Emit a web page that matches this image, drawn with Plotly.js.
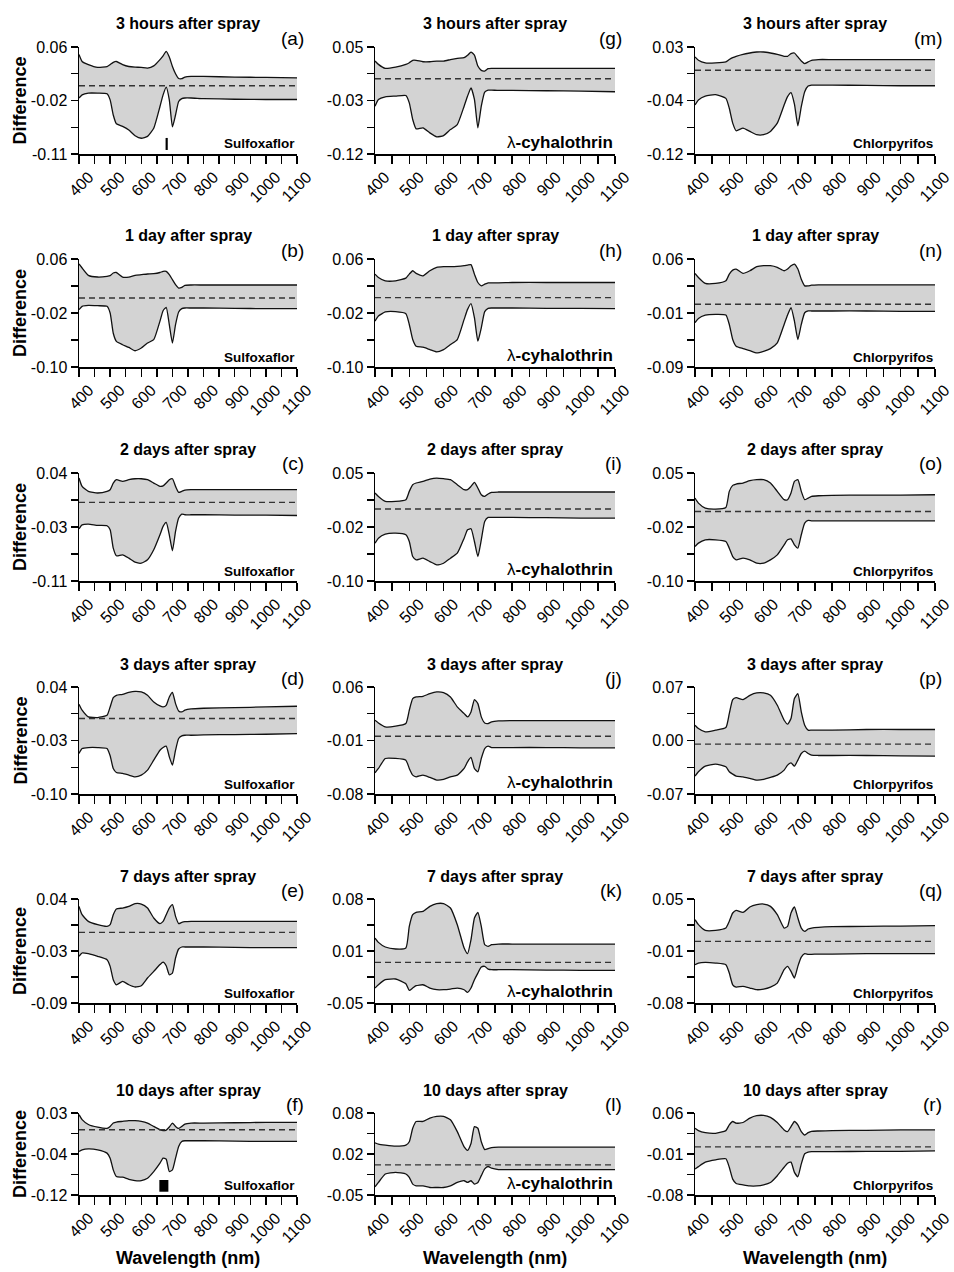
<!DOCTYPE html>
<html><head><meta charset="utf-8">
<script src="https://cdn.plot.ly/plotly-3.0.1.min.js"></script>
<style>html,body{margin:0;padding:0;background:#fff;overflow:hidden}#chart{width:954px;height:1272px}</style>
</head><body><div id="chart"></div>
<script>
// ---------- DATA ----------
const wavelength = [400,410,430,460,490,500,510,520,540,560,580,600,620,640,660,670,680,690,700,710,720,730,740,760,800,900,1000,1100];

// Sulfoxaflor
const aUpper = [0.048,0.037,0.032,0.0276,0.029,0.032,0.0356,0.037,0.032,0.029,0.028,0.0276,0.0265,0.030,0.040,0.046,0.053,0.044,0.029,0.0175,0.010,0.0096,0.0122,0.0133,0.0133,0.0122,0.0117,0.011];
const aLower = [-0.021,-0.016,-0.0133,-0.0133,-0.0144,-0.024,-0.048,-0.062,-0.066,-0.072,-0.081,-0.085,-0.082,-0.069,-0.0345,-0.016,-0.0037,-0.024,-0.067,-0.048,-0.0266,-0.022,-0.021,-0.021,-0.022,-0.023,-0.0234,-0.0234];
const bUpper = [0.0526,0.0467,0.0358,0.0333,0.0343,0.0353,0.0393,0.040,0.0333,0.0333,0.0358,0.0368,0.0378,0.0383,0.040,0.0417,0.0417,0.0368,0.0294,0.022,0.017,0.018,0.021,0.0215,0.0215,0.0215,0.0215,0.0215];
const bLower = [-0.0151,-0.0101,-0.0087,-0.0092,-0.0101,-0.02,-0.05,-0.062,-0.067,-0.071,-0.0759,-0.0719,-0.0645,-0.0595,-0.032,-0.0166,-0.0116,-0.0373,-0.0645,-0.0373,-0.0185,-0.0136,-0.0126,-0.0126,-0.0126,-0.0131,-0.0136,-0.0136];
const cUpper = [0.033,0.0214,0.0145,0.0122,0.0145,0.0168,0.026,0.0307,0.0284,0.0307,0.032,0.032,0.0307,0.026,0.0214,0.022,0.026,0.0307,0.032,0.0214,0.0131,0.0145,0.0163,0.0168,0.0168,0.0168,0.0168,0.017];
const cLower = [-0.0375,-0.032,-0.031,-0.0328,-0.0333,-0.0389,-0.0644,-0.075,-0.0737,-0.0783,-0.0839,-0.0853,-0.0806,-0.0667,-0.0458,-0.0342,-0.0287,-0.0458,-0.068,-0.0412,-0.0226,-0.0171,-0.018,-0.018,-0.018,-0.0185,-0.0185,-0.019];
const dUpper = [0.0174,0.0096,0.0009,0.0,0.003,0.0139,0.026,0.0291,0.0304,0.033,0.0343,0.0335,0.0291,0.0204,0.0152,0.0139,0.016,0.027,0.033,0.0183,0.0087,0.0074,0.0096,0.0113,0.0122,0.013,0.0139,0.0148];
const dLower = [-0.047,-0.0405,-0.0392,-0.0392,-0.0405,-0.05,-0.0666,-0.0718,-0.0731,-0.0753,-0.0775,-0.0753,-0.0688,-0.0557,-0.0427,-0.0392,-0.0374,-0.0514,-0.0622,-0.0427,-0.0274,-0.024,-0.0231,-0.0231,-0.0227,-0.0222,-0.0218,-0.0209];
const eUpper = [0.0308,0.0204,0.012,0.0079,0.0058,0.0079,0.0204,0.0275,0.0287,0.0308,0.0342,0.0337,0.0287,0.0163,0.0092,0.012,0.0204,0.0287,0.0329,0.0183,0.0092,0.0108,0.0117,0.0121,0.0121,0.0121,0.0121,0.0121];
const eLower = [-0.0317,-0.0275,-0.0284,-0.0317,-0.0359,-0.0442,-0.0609,-0.0672,-0.063,-0.0672,-0.07,-0.0684,-0.0588,-0.0505,-0.042,-0.039,-0.0434,-0.0547,-0.0526,-0.0338,-0.0225,-0.02,-0.02,-0.02,-0.02,-0.0205,-0.0209,-0.0209];
const fUpper = [0.027,0.018,0.009,0.004,0.002,0.0055,0.0116,0.0135,0.0147,0.0159,0.0159,0.0147,0.0116,0.0055,-0.0006,-0.0024,-0.0012,0.0043,0.0116,0.0055,0.0018,0.0055,0.0098,0.0116,0.0116,0.0122,0.0129,0.0129];
const fLower = [-0.0404,-0.0373,-0.0355,-0.0373,-0.0434,-0.0526,-0.074,-0.0863,-0.0875,-0.0912,-0.0936,-0.0936,-0.0893,-0.0771,-0.0618,-0.0526,-0.0545,-0.077,-0.074,-0.0526,-0.0312,-0.022,-0.0208,-0.0208,-0.0208,-0.0214,-0.022,-0.022];
// λ-cyhalothrin
const gUpper = [0.0277,0.0224,0.016,0.018,0.0224,0.025,0.0288,0.0288,0.0266,0.0266,0.0277,0.0277,0.030,0.032,0.033,0.0367,0.042,0.037,0.0197,0.0128,0.0118,0.0155,0.016,0.016,0.016,0.016,0.016,0.016];
const gLower = [-0.044,-0.0334,-0.0291,-0.028,-0.027,-0.0387,-0.0652,-0.080,-0.0785,-0.0865,-0.0928,-0.0907,-0.0812,-0.0732,-0.044,-0.028,-0.0148,-0.0334,-0.0785,-0.044,-0.0217,-0.0185,-0.0185,-0.019,-0.019,-0.0195,-0.0201,-0.0211];
const hUpper = [0.0376,0.0327,0.0277,0.0277,0.0317,0.0376,0.0426,0.0386,0.0351,0.0426,0.0476,0.0486,0.0486,0.049,0.0501,0.051,0.0516,0.0376,0.0252,0.0202,0.0227,0.0247,0.0247,0.0247,0.0252,0.0252,0.0252,0.0252];
const hLower = [-0.032,-0.0245,-0.0185,-0.018,-0.021,-0.037,-0.0593,-0.0692,-0.0707,-0.0742,-0.0777,-0.0742,-0.0667,-0.0593,-0.0295,-0.0146,-0.0061,-0.027,-0.0618,-0.0419,-0.018,-0.0131,-0.0126,-0.0126,-0.0126,-0.0131,-0.0131,-0.0136];
const iUpper = [0.0222,0.0175,0.0106,0.0106,0.0129,0.0245,0.0338,0.0361,0.0384,0.0416,0.043,0.0421,0.0407,0.0338,0.0268,0.0268,0.0314,0.037,0.0291,0.0198,0.0175,0.0208,0.0231,0.0236,0.0236,0.0236,0.0236,0.0236];
const iLower = [-0.0474,-0.0405,-0.0349,-0.0335,-0.0358,-0.0451,-0.066,-0.0706,-0.0683,-0.073,-0.0776,-0.0753,-0.0683,-0.0614,-0.0405,-0.0289,-0.0275,-0.0451,-0.066,-0.0428,-0.0173,-0.0117,-0.0117,-0.0117,-0.0117,-0.0121,-0.0126,-0.0126];
const jUpper = [0.0165,0.013,0.0078,0.0087,0.0122,0.0296,0.0448,0.047,0.0478,0.0513,0.0535,0.0526,0.047,0.0339,0.0252,0.0209,0.0274,0.0435,0.0383,0.0209,0.013,0.0122,0.0143,0.0156,0.0161,0.0161,0.0161,0.0161];
const jLower = [-0.0522,-0.0466,-0.0335,-0.0335,-0.0357,-0.0466,-0.0553,-0.0575,-0.0553,-0.0583,-0.0618,-0.0609,-0.0575,-0.0553,-0.0466,-0.0379,-0.0322,-0.0466,-0.0509,-0.0335,-0.0205,-0.0174,-0.0192,-0.0192,-0.0192,-0.0192,-0.0196,-0.0196];
const kUpper = [0.0312,0.0258,0.02,0.0175,0.0187,0.0458,0.0604,0.0633,0.0646,0.0708,0.0742,0.0742,0.0687,0.0479,0.0187,0.0116,0.0291,0.0562,0.0633,0.0458,0.0229,0.0208,0.0229,0.0237,0.0237,0.0237,0.0237,0.0237];
const kLower = [-0.0313,-0.0272,-0.0209,-0.02,-0.0259,-0.0343,-0.0313,-0.0284,-0.0272,-0.0313,-0.0334,-0.0334,-0.0326,-0.0313,-0.0334,-0.0368,-0.0313,-0.0209,-0.0126,-0.0051,-0.0042,-0.0076,-0.0084,-0.0084,-0.0084,-0.0088,-0.0092,-0.0092];
const lUpper = [0.0327,0.0306,0.029,0.0274,0.029,0.0344,0.0558,0.0666,0.0666,0.0719,0.0746,0.0746,0.0693,0.0505,0.0263,0.0209,0.0317,0.0585,0.0558,0.0344,0.022,0.0236,0.0252,0.0258,0.0258,0.0258,0.0258,0.0258];
const lLower = [-0.0371,-0.0301,-0.0167,-0.014,-0.0167,-0.022,-0.0328,-0.0355,-0.0355,-0.0381,-0.0381,-0.0381,-0.0355,-0.0301,-0.0274,-0.0301,-0.0274,-0.0328,-0.0301,-0.0193,-0.0086,-0.0048,-0.0075,-0.0097,-0.0097,-0.0097,-0.0097,-0.0097];
// Chlorpyrifos
const mUpper = [0.0161,0.0114,0.0077,0.0077,0.0091,0.0124,0.0151,0.017,0.0198,0.0216,0.023,0.023,0.0216,0.0198,0.017,0.017,0.0207,0.0216,0.0161,0.0105,0.0068,0.0091,0.0114,0.0124,0.0124,0.0124,0.0124,0.0124];
const mLower = [-0.0512,-0.0442,-0.0387,-0.0368,-0.042,-0.0559,-0.0767,-0.0874,-0.0837,-0.0883,-0.093,-0.093,-0.0883,-0.0767,-0.0512,-0.0396,-0.034,-0.050,-0.0804,-0.0535,-0.0326,-0.0248,-0.0234,-0.0234,-0.0234,-0.0238,-0.0243,-0.0243];
const nUpper = [0.04,0.0344,0.026,0.026,0.0297,0.039,0.0446,0.046,0.04,0.0437,0.0493,0.0507,0.0507,0.0484,0.0437,0.046,0.0507,0.053,0.046,0.032,0.0227,0.0227,0.0236,0.0241,0.0241,0.0241,0.0241,0.0241];
const nLower = [-0.0285,-0.0225,-0.0178,-0.0169,-0.0178,-0.0309,-0.0518,-0.0612,-0.0644,-0.0672,-0.0705,-0.0682,-0.0644,-0.0565,-0.0309,-0.0178,-0.0076,-0.0262,-0.0518,-0.0309,-0.0146,-0.0122,-0.0122,-0.0122,-0.0122,-0.0122,-0.0127,-0.0127];
const oUpper = [0.0152,0.0082,0.0013,-0.0001,0.0022,0.0245,0.0328,0.0347,0.0361,0.0393,0.0407,0.0407,0.0361,0.0245,0.0129,0.0129,0.0222,0.0384,0.0407,0.0245,0.0129,0.0152,0.0175,0.0184,0.0189,0.0194,0.0194,0.0198];
const oLower = [-0.0521,-0.0474,-0.0428,-0.0428,-0.0451,-0.0544,-0.066,-0.0706,-0.0683,-0.0706,-0.0753,-0.0753,-0.0706,-0.0637,-0.0498,-0.0428,-0.0414,-0.0498,-0.0544,-0.0358,-0.0196,-0.0159,-0.0164,-0.0164,-0.0164,-0.0164,-0.0164,-0.0164];
const pUpper = [0.02,0.0156,0.0113,0.0135,0.0169,0.0352,0.0535,0.0561,0.0535,0.0591,0.0622,0.0622,0.0591,0.0461,0.0265,0.0213,0.0287,0.0548,0.0613,0.0374,0.02,0.0135,0.0135,0.0135,0.0135,0.0144,0.0144,0.0144];
const pLower = [-0.0466,-0.0409,-0.0335,-0.0309,-0.0344,-0.0409,-0.044,-0.0466,-0.0475,-0.0496,-0.0518,-0.0509,-0.0483,-0.0453,-0.0388,-0.0322,-0.0292,-0.0335,-0.0257,-0.017,-0.014,-0.017,-0.0192,-0.0196,-0.0196,-0.0196,-0.02,-0.0205];
const qUpper = [0.0241,0.0179,0.0108,0.0108,0.0137,0.0221,0.0325,0.0358,0.0333,0.04,0.0429,0.0437,0.0408,0.0304,0.0137,0.0158,0.0325,0.04,0.0262,0.0137,0.0095,0.0125,0.0137,0.0146,0.0154,0.0158,0.0162,0.0167];
const qLower = [-0.0321,-0.0301,-0.0292,-0.0301,-0.0321,-0.0426,-0.0572,-0.0601,-0.0592,-0.0613,-0.0634,-0.0626,-0.0601,-0.0551,-0.0384,-0.0342,-0.0405,-0.0488,-0.0342,-0.0226,-0.0184,-0.0192,-0.0192,-0.0188,-0.0188,-0.0184,-0.0184,-0.0184];
const rUpper = [0.034,0.0299,0.0264,0.0253,0.0299,0.0397,0.0455,0.0426,0.0438,0.0513,0.0554,0.0559,0.0525,0.0438,0.0311,0.0282,0.0368,0.0455,0.0397,0.0282,0.0224,0.0264,0.0287,0.0293,0.0299,0.0305,0.0311,0.0311];
const rLower = [-0.0355,-0.0315,-0.024,-0.0199,-0.0182,-0.0326,-0.0529,-0.0604,-0.0627,-0.0645,-0.0645,-0.0627,-0.0587,-0.0471,-0.0326,-0.0257,-0.024,-0.0413,-0.0488,-0.0269,-0.0095,-0.0066,-0.006,-0.006,-0.006,-0.0054,-0.0054,-0.0048];

const panelLetters = ['a','b','c','d','e','f','g','h','i','j','k','l','m','n','o','p','q','r'];
const meanDifference = [-0.0016,0.0022,-0.0008,-0.0013,-0.0017,-0.0006,-0.0004,0.0028,-0.0001,-0.0044,0.0008,-0.0022,-0.0025,-0.0029,-0.0034,-0.0048,-0.003,0.0021];
const timeTitles = ['3 hours after spray','1 day after spray','2 days after spray','3 days after spray','7 days after spray','10 days after spray'];
const insecticides = ['Sulfoxaflor','λ-cyhalothrin','Chlorpyrifos'];
const yTickText = [
  ['-0.11','','-0.02','','0.06'],['-0.10','','-0.02','','0.06'],['-0.11','','-0.03','','0.04'],
  ['-0.10','','-0.03','','0.04'],['-0.09','','-0.03','','0.04'],['-0.12','','-0.04','','0.03'],
  ['-0.12','','-0.03','','0.05'],['-0.10','','-0.02','','0.06'],['-0.10','','-0.02','','0.05'],
  ['-0.08','','-0.01','','0.06'],['-0.05','','0.01','','0.08'],['-0.05','','0.02','','0.08'],
  ['-0.12','','-0.04','','0.03'],['-0.09','','-0.01','','0.06'],['-0.10','','-0.02','','0.05'],
  ['-0.07','','0.00','','0.07'],['-0.08','','-0.01','','0.05'],['-0.08','','-0.01','','0.06']
];
const xTickVals = [400,450,500,550,600,650,700,750,800,850,900,950,1000,1050,1100];
const xTickText = ['400','','500','','600','','700','','800','','900','','1000','','1100'];
// selected band markers (wavelength from, to, difference from, to)
const bandMarkA = [678, 685, -0.1036, -0.0845];
const bandMarkF = [658, 687, -0.114, -0.0925];

const upperCurves = [aUpper,bUpper,cUpper,dUpper,eUpper,fUpper,gUpper,hUpper,iUpper,jUpper,kUpper,lUpper,mUpper,nUpper,oUpper,pUpper,qUpper,rUpper];
const lowerCurves = [aLower,bLower,cLower,dLower,eLower,fLower,gLower,hLower,iLower,jLower,kLower,lLower,mLower,nLower,oLower,pLower,qLower,rLower];

// ---------- LAYOUT ----------
const W = 954, H = 1272;
const colPx = [[79,297],[375,615],[695,935]];
const rowPx = [[47,154],[259,367],[473,581],[687,794],[899,1003],[1113,1195]];
const FONT = 'Liberation Sans, Arial, Helvetica, sans-serif';

const traces = [];
const layout = {
  width: W, height: H, margin: {l:0,r:0,t:0,b:0},
  paper_bgcolor: '#fff', plot_bgcolor: 'rgba(0,0,0,0)',
  showlegend: false, font: {family: FONT, color: '#000'},
  annotations: [], shapes: []
};

for (let i = 0; i < 18; i++) {
  const col = Math.floor(i / 6), row = i % 6, k = i + 1;
  const xn = 'x' + (k > 1 ? k : ''), yn = 'y' + (k > 1 ? k : '');
  const xa = 'xaxis' + (k > 1 ? k : ''), ya = 'yaxis' + (k > 1 ? k : '');
  const [x0, x1] = colPx[col];
  const [t0, b0] = rowPx[row];
  const tt = yTickText[i];
  const lo = Number(tt[0]), hi = Number(tt[4]);
  const step = (hi - lo) / 4;
  const yVals = [lo, lo + step, lo + 2 * step, lo + 3 * step, hi];

  const lineStyle = {color: '#111', width: 1.3, shape: 'spline', smoothing: 0.5};
  traces.push({x: wavelength, y: lowerCurves[i], type: 'scatter', mode: 'lines', line: lineStyle, xaxis: xn, yaxis: yn, hoverinfo: 'skip'});
  traces.push({x: wavelength, y: upperCurves[i], type: 'scatter', mode: 'lines', line: lineStyle, fill: 'tonexty', fillcolor: '#d3d3d3', xaxis: xn, yaxis: yn, hoverinfo: 'skip'});
  traces.push({x: [400, 1100], y: [meanDifference[i], meanDifference[i]], type: 'scatter', mode: 'lines', line: {color: '#333', width: 1.4, dash: '6px,4px'}, xaxis: xn, yaxis: yn, hoverinfo: 'skip'});

  const common = {showline: true, linecolor: '#000', linewidth: 1.5, ticks: 'outside', tickcolor: '#000', tickwidth: 1.3, showgrid: false, zeroline: false, tickfont: {family: FONT, size: 16, color: '#000'}, fixedrange: true};
  layout[xa] = Object.assign({}, common, {domain: [x0 / W, x1 / W], anchor: yn, range: [400, 1100], tickmode: 'array', tickvals: xTickVals, ticktext: xTickText, tickangle: -45, ticklen: 8, ticklabelshift: 10, ticklabelstandoff: -2, ticklabeloverflow: 'allow'});
  layout[ya] = Object.assign({}, common, {domain: [1 - b0 / H, 1 - t0 / H], anchor: xn, range: [lo, hi], tickmode: 'array', tickvals: yVals, ticktext: tt, ticklen: 7});

  // subplot title
  layout.annotations.push({text: timeTitles[row], xref: 'paper', yref: 'paper', x: (x0 + x1) / 2 / W, y: 1 - (t0 - 23) / H, xanchor: 'center', yanchor: 'middle', showarrow: false, font: {family: FONT, size: 16, weight: 700, color: '#000'}});
  // panel letter
  layout.annotations.push({text: '(' + panelLetters[i] + ')', xref: 'paper', yref: 'paper', x: (x1 + 9) / W, y: 1 - (t0 - 9) / H, xanchor: 'right', yanchor: 'middle', showarrow: false, font: {family: FONT, size: 19, color: '#000'}});
  // insecticide name
  const isL = col === 1;
  layout.annotations.push({text: isL ? 'λ<b>-cyhalothrin</b>' : '<b>' + insecticides[col] + '</b>', xref: 'paper', yref: 'paper', x: x1 / W, y: 1 - (b0 - (isL ? 12 : 10)) / H, xanchor: 'right', yanchor: 'middle', showarrow: false, font: {family: FONT, size: isL ? 17 : 13.5, color: '#000'}});
  if (col === 0) {
    layout.annotations.push({text: '<b>Difference</b>', xref: 'paper', yref: 'paper', x: 20 / W, y: 1 - ((t0 + b0) / 2) / H, xanchor: 'center', yanchor: 'middle', textangle: -90, showarrow: false, font: {family: FONT, size: 18, color: '#000'}});
  }
  if (row === 5) {
    layout.annotations.push({text: '<b>Wavelength (nm)</b>', xref: 'paper', yref: 'paper', x: (x0 + x1) / 2 / W, y: 1 - 1258 / H, xanchor: 'center', yanchor: 'middle', showarrow: false, font: {family: FONT, size: 18, color: '#000'}});
  }
}

layout.shapes.push({type: 'rect', xref: 'x', yref: 'y', x0: bandMarkA[0], x1: bandMarkA[1], y0: bandMarkA[2], y1: bandMarkA[3], fillcolor: '#000', line: {width: 0}});
layout.shapes.push({type: 'rect', xref: 'x6', yref: 'y6', x0: bandMarkF[0], x1: bandMarkF[1], y0: bandMarkF[2], y1: bandMarkF[3], fillcolor: '#000', line: {width: 0}});

Plotly.newPlot('chart', traces, layout, {staticPlot: true, displayModeBar: false});
</script>
</body></html>
